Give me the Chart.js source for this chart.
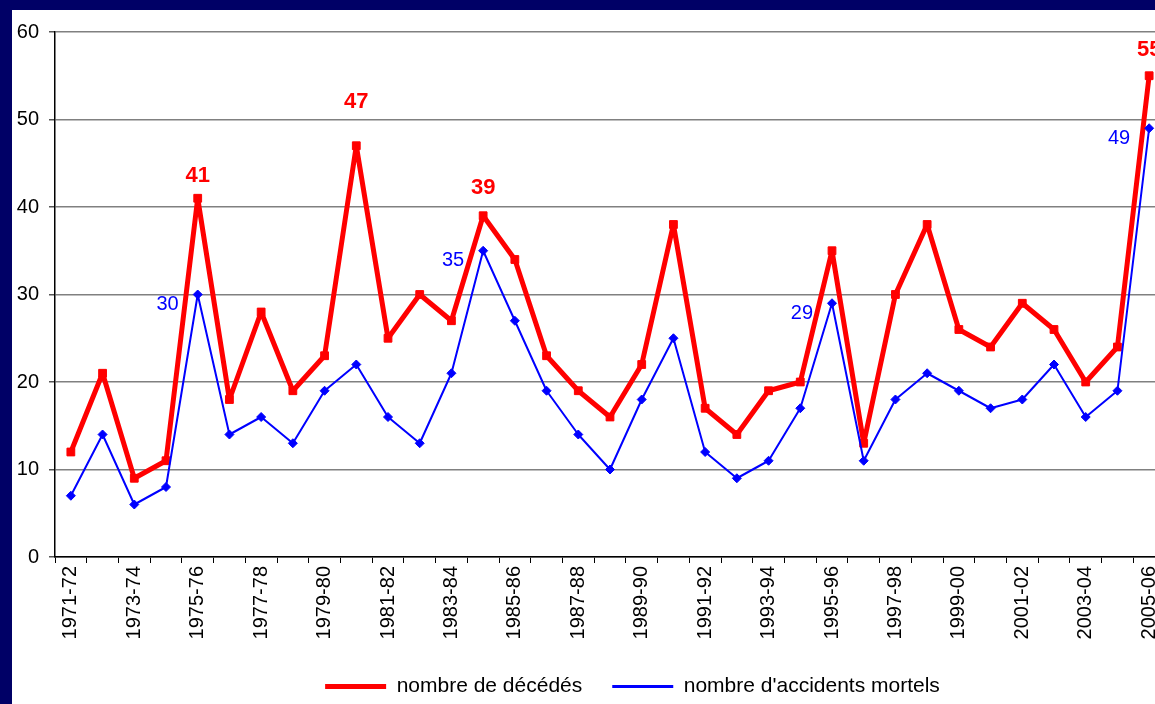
<!DOCTYPE html>
<html>
<head>
<meta charset="utf-8">
<script src="https://cdn.jsdelivr.net/npm/chart.js@4.4.1/dist/chart.umd.min.js"></script>
<style>
  html, body { margin: 0; padding: 0; overflow: hidden; background: #fff; }
  #cadre {
    position: absolute; left: 0; top: 0;
    width: 1187px; height: 704px; box-sizing: border-box;
    border-left: 12px solid #000066; border-top: 10px solid #000066;
    background: #fff;
  }
  #zone { position: relative; width: 1175px; height: 694px; }
</style>
</head>
<body>
<div id="cadre"><div id="zone"><canvas id="graphDeces"></canvas></div></div>
<script>
// saisons hivernales
const saisons = [
  '1971-72', '1972-73', '1973-74', '1974-75', '1975-76', '1976-77', '1977-78',
  '1978-79', '1979-80', '1980-81', '1981-82', '1982-83', '1983-84', '1984-85',
  '1985-86', '1986-87', '1987-88', '1988-89', '1989-90', '1990-91', '1991-92',
  '1992-93', '1993-94', '1994-95', '1995-96', '1996-97', '1997-98', '1998-99',
  '1999-00', '2000-01', '2001-02', '2002-03', '2003-04', '2004-05', '2005-06'
];
const nbDecedes = [
  12, 21, 9, 11, 41, 18, 28, 19, 23, 47, 25, 30, 27, 39, 34, 23, 19, 16,
  22, 38, 17, 14, 19, 20, 35, 13, 30, 38, 26, 24, 29, 26, 20, 24, 55
];
const nbAccidents = [
  7, 14, 6, 8, 30, 14, 16, 13, 19, 22, 16, 13, 21, 35, 27, 19, 14, 10,
  18, 25, 12, 9, 11, 17, 29, 11, 18, 21, 19, 17, 18, 22, 16, 19, 49
];
// points dont la valeur est écrite sur le graphique
const etiquettesDecedes = [4, 9, 13, 34];
const etiquettesAccidents = [4, 13, 24, 34];

const POLICE = '"Liberation Sans", Arial, sans-serif';
Chart.defaults.font.family = POLICE;
Chart.defaults.font.size = 20;
Chart.defaults.color = '#000';

// --- valeurs écrites à côté des points ---
const ecartRouge = { 4: 22, 9: 44, 13: 28, 34: 26 };
const pluginEtiquettes = {
  id: 'etiquettes',
  afterDatasetsDraw(chart) {
    const ctx = chart.ctx;
    const rouges = chart.getDatasetMeta(0).data;
    const bleus = chart.getDatasetMeta(1).data;
    ctx.save();
    ctx.textBaseline = 'middle';

    ctx.font = 'bold 22px ' + POLICE;
    ctx.fillStyle = '#ff0000';
    ctx.textAlign = 'center';
    etiquettesDecedes.forEach(function(i) {
      ctx.fillText(String(nbDecedes[i]), rouges[i].x, rouges[i].y - (ecartRouge[i] || 24));
    });

    ctx.font = '20px ' + POLICE;
    ctx.fillStyle = '#0000ff';
    ctx.textAlign = 'right';
    etiquettesAccidents.forEach(function(i) {
      ctx.fillText(String(nbAccidents[i]), bleus[i].x - 19, bleus[i].y + 10);
    });
    ctx.restore();
  }
};

// ajustements de mise en page : légende recentrée, étiquettes de l'axe X non coupées
const pluginMiseEnPage = {
  id: 'miseEnPage',
  afterLayout(chart) {
    const lg = chart.legend;
    if (lg) {
      lg.left += 44; lg.right += 44;
      lg.top += 3; lg.bottom += 3;
    }
    const sx = chart.scales.x;
    sx.bottom = sx.top + 95;
    sx.height = 95;
  }
};

const ctx = document.getElementById('graphDeces').getContext('2d');
new Chart(ctx, {
  type: 'line',
  data: {
    labels: saisons,
    datasets: [{
      label: 'nombre de décédés',
      data: nbDecedes,
      borderColor: '#ff0000',
      backgroundColor: '#ff0000',
      borderWidth: 5,
      borderJoinStyle: 'round',
      pointStyle: 'rect',
      pointRadius: 5.5,
      pointBorderWidth: 1,
      tension: 0,
      order: 1
    }, {
      label: "nombre d'accidents mortels",
      data: nbAccidents,
      borderColor: '#0000ff',
      backgroundColor: '#0000ff',
      borderWidth: 2,
      borderJoinStyle: 'round',
      pointStyle: 'rectRot',
      pointRadius: 4.5,
      pointBorderWidth: 1,
      tension: 0,
      order: 0
    }]
  },
  options: {
    responsive: true,
    maintainAspectRatio: false,
    animation: false,
    layout: { padding: { top: 21, right: 22, left: 0, bottom: 0 } },
    scales: {
      x: {
        offset: true,
        grid: { display: true, drawOnChartArea: false, offset: true, tickLength: 6, color: '#000', lineWidth: 1 },
        border: { color: '#000', width: 1.5 },
        ticks: {
          autoSkip: false,
          minRotation: 90,
          maxRotation: 90,
          padding: 3,
          font: { size: 20 },
          callback: function(val, index) {
            return index % 2 === 0 ? this.getLabelForValue(val) : '';
          }
        },
        afterFit: function(scale) { scale.height = 86; }
      },
      y: {
        min: 0,
        max: 60,
        grid: { color: '#808080', lineWidth: 1.5, tickLength: 6, tickColor: '#555' },
        border: { color: '#000', width: 1.5 },
        ticks: { stepSize: 10, padding: 10, font: { size: 20 } },
        afterFit: function(scale) { scale.width = 43; }
      }
    },
    plugins: {
      legend: {
        position: 'bottom',
        labels: {
          usePointStyle: true,
          pointStyle: 'line',
          pointStyleWidth: 61,
          padding: 30,
          font: { size: 21 },
          sort: function(a, b) { return a.datasetIndex - b.datasetIndex; },
          generateLabels: function(chart) {
            const items = Chart.defaults.plugins.legend.labels.generateLabels(chart);
            items.forEach(function(it) {
              const ds = chart.data.datasets[it.datasetIndex];
              it.lineWidth = it.datasetIndex === 0 ? 5 : 3;
              it.strokeStyle = ds.borderColor;
            });
            return items;
          }
        }
      },
      tooltip: { enabled: false }
    }
  },
  plugins: [pluginEtiquettes, pluginMiseEnPage]
});
</script>
</body>
</html>
